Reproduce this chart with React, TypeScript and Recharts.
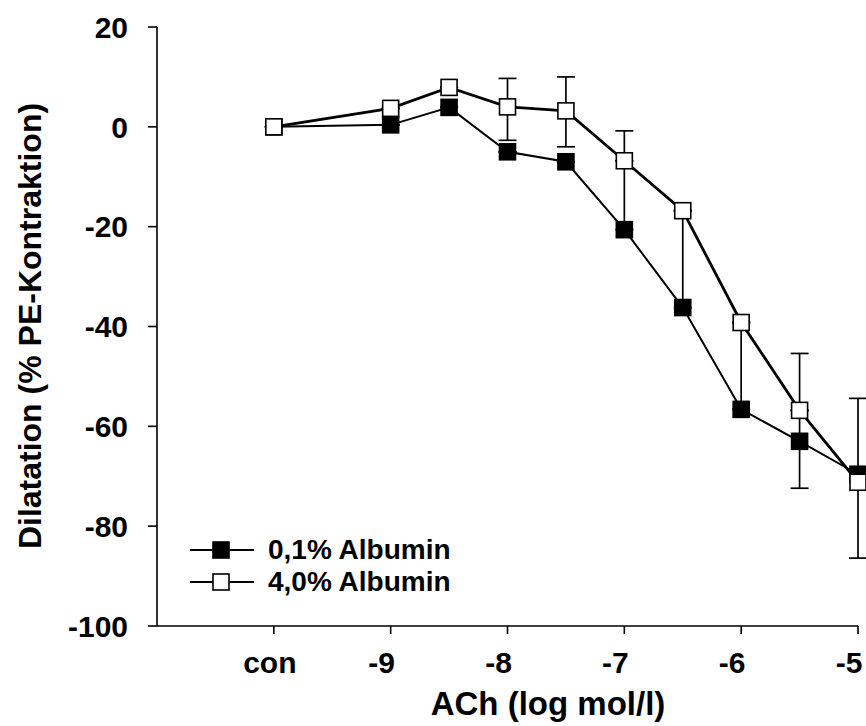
import { ErrorBar, Line, LineChart, XAxis, YAxis } from "recharts";

// log ACh dose; -10 stands for the control ("con") column
const DOSES = [-10, -9, -8.5, -8, -7.5, -7, -6.5, -6, -5.5, -5];
const X_TICKS = [-10, -9, -8, -7, -6, -5];
const Y_TICKS = [-100, -80, -60, -40, -20, 0, 20];

// 0,1% Albumin: mean and [lower, upper] error
const LOW_ALB = [0, 0.4, 3.9, -5, -7, -20.6, -36.2, -56.6, -63, -69.6];
const LOW_ALB_ERR = [
  [0, 0], [0, 0], [0, 0], [0, 0], [0, 0],
  [0, 13.8], [0, 19.4], [0, 17.4], [9.4, 6.2], [0, 0],
];

// 4,0% Albumin: mean and [lower, upper] error
const HIGH_ALB = [0, 3.7, 7.9, 4, 3.2, -6.8, -16.8, -39.2, -56.8, -71.2];
const HIGH_ALB_ERR = [
  [0, 0], [0, 0], [0, 0], [6.7, 5.7], [7.2, 6.8],
  [0, 6], [0, 0], [0, 0], [0, 11.4], [15.2, 16.8],
];

const FONT = "'Liberation Sans', Arial, Helvetica, sans-serif";

const rows = DOSES.map((dose, i) => ({
  dose,
  low: LOW_ALB[i],
  lowErr: LOW_ALB_ERR[i],
  high: HIGH_ALB[i],
  highErr: HIGH_ALB_ERR[i],
}));

function squareDot(fill: string) {
  return (props: any) => {
    const { cx, cy, index } = props;
    if (cx == null || cy == null) return <g key={`e-${index}`} />;
    return (
      <rect
        key={`sq-${index}`}
        x={cx - 8}
        y={cy - 8}
        width={16}
        height={16}
        fill={fill}
        stroke="#000"
        strokeWidth={1.6}
      />
    );
  };
}

function XTick(props: any) {
  const { x, y, payload } = props;
  const isControl = payload.value === -10;
  const label = isControl ? "con" : String(payload.value);
  // the minus sign hangs to the left, so numbers sit a little left of the tick
  return (
    <text
      x={x + (isControl ? -4 : -9)}
      y={y}
      dy={37}
      textAnchor="middle"
      fontFamily={FONT}
      fontWeight="bold"
      fontSize={30}
      fill="#000"
    >
      {label}
    </text>
  );
}

function YTick(props: any) {
  const { x, y, payload } = props;
  return (
    <text x={x} y={y} dy={10.7} textAnchor="end" fontFamily={FONT} fontWeight="bold" fontSize={30} fill="#000">
      {payload.value}
    </text>
  );
}

function LegendRow({ fill, text }: { fill: string; text: string }) {
  return (
    <div style={{ display: "flex", alignItems: "center", height: 32 }}>
      <svg width={78} height={32} style={{ display: "block" }}>
        <line x1={0} y1={16} x2={64} y2={16} stroke="#000" strokeWidth={2} />
        <rect x={23} y={8} width={16} height={16} fill={fill} stroke="#000" strokeWidth={1.6} />
      </svg>
      <span style={{ fontFamily: FONT, fontWeight: "bold", fontSize: 28, lineHeight: "32px", color: "#000" }}>
        {text}
      </span>
    </div>
  );
}

export default function App() {
  return (
    <div style={{ position: "relative", width: 866, height: 726, background: "#fff" }}>
      <style>{"body{margin:0}"}</style>
      <LineChart width={866} height={726} data={rows} margin={{ top: 27, right: 8, left: 0, bottom: 0 }}>
        <XAxis
          type="number"
          dataKey="dose"
          domain={[-11, -5]}
          ticks={X_TICKS}
          interval={0}
          height={100}
          tick={<XTick />}
          tickSize={8}
          tickMargin={2}
          axisLine={{ stroke: "#000", strokeWidth: 1.6 }}
          tickLine={{ stroke: "#000", strokeWidth: 1.6 }}
          label={{
            content: () => (
              <text x={548} y={715} textAnchor="middle" fontFamily={FONT} fontWeight="bold" fontSize={33} fill="#000">
                ACh (log mol/l)
              </text>
            ),
          }}
        />
        <YAxis
          type="number"
          domain={[-100, 20]}
          ticks={Y_TICKS}
          interval={0}
          width={157}
          tick={<YTick />}
          tickSize={9}
          tickMargin={20}
          axisLine={{ stroke: "#000", strokeWidth: 1.6 }}
          tickLine={{ stroke: "#000", strokeWidth: 1.6 }}
          label={{
            content: () => (
              <text
                x={41}
                y={326}
                transform="rotate(-90 41 326)"
                textAnchor="middle"
                fontFamily={FONT}
                fontWeight="bold"
                fontSize={32}
                fill="#000"
              >
                Dilatation (% PE-Kontraktion)
              </text>
            ),
          }}
        />
        <Line
          dataKey="low"
          name="0,1% Albumin"
          stroke="#000"
          strokeWidth={2}
          dot={squareDot("#000")}
          activeDot={false}
          isAnimationActive={false}
        >
          <ErrorBar dataKey="lowErr" direction="y" width={9} stroke="#000" strokeWidth={1.7} />
        </Line>
        <Line
          dataKey="high"
          name="4,0% Albumin"
          stroke="#000"
          strokeWidth={2.8}
          dot={squareDot("#fff")}
          activeDot={false}
          isAnimationActive={false}
        >
          <ErrorBar dataKey="highErr" direction="y" width={9} stroke="#000" strokeWidth={1.7} />
        </Line>
      </LineChart>
      <div style={{ position: "absolute", left: 190, top: 534 }}>
        <LegendRow fill="#000" text="0,1% Albumin" />
        <LegendRow fill="#fff" text="4,0% Albumin" />
      </div>
    </div>
  );
}
